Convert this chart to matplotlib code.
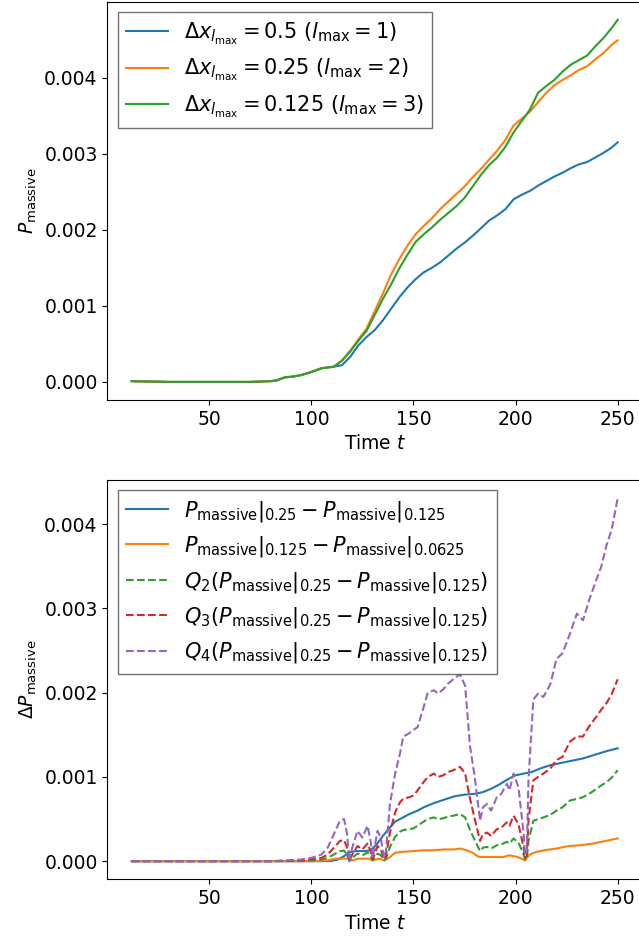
import numpy as np
import matplotlib.pyplot as plt

plt.rcParams['font.size'] = 13.5

# P_massive for the three finest resolutions
t_top = [12, 30, 50, 70, 80, 83, 87, 91, 95, 100, 105, 111, 115, 119, 123, 127, 131,
         135, 139, 143, 147, 151, 155, 159, 163, 167, 171, 175, 179, 183, 187, 191,
         195, 199, 203, 207, 211, 215, 219, 223, 227, 231, 235, 239, 243, 247, 250]
p_05 = [0.00001, 0.0, 0.0, 0.0, 0.00001, 0.00002, 0.00006, 0.00007, 0.00009, 0.00013,
        0.00018, 0.0002, 0.00022, 0.00033, 0.00048, 0.00059, 0.00068, 0.00081, 0.00096,
        0.00111, 0.00124, 0.00135, 0.00144, 0.0015, 0.00157, 0.00166, 0.00175, 0.00183,
        0.00192, 0.00202, 0.00212, 0.00219, 0.00227, 0.0024, 0.00246, 0.00251, 0.00258,
        0.00264, 0.0027, 0.00275, 0.00281, 0.00286, 0.00289, 0.00295, 0.00301, 0.00308,
        0.00315]
p_025 = [0.00001, 0.0, 0.0, 0.0, 0.00001, 0.00002, 0.00006, 0.00007, 0.00009, 0.00013,
         0.00018, 0.0002, 0.00028, 0.00041, 0.00056, 0.0007, 0.00093, 0.00116, 0.00141,
         0.00161, 0.00179, 0.00194, 0.00205, 0.00215, 0.00227, 0.00237, 0.00247, 0.00257,
         0.00269, 0.0028, 0.00292, 0.00304, 0.00318, 0.00337, 0.00346, 0.00355, 0.00368,
         0.0038, 0.0039, 0.00397, 0.00403, 0.0041, 0.00415, 0.00424, 0.00432, 0.00443,
         0.00449]
p_0125 = [0.00001, 0.0, 0.0, 0.0, 0.00001, 0.00002, 0.00006, 0.00007, 0.00009, 0.00013,
          0.00018, 0.0002, 0.00028, 0.0004, 0.00054, 0.00067, 0.00088, 0.00109, 0.00128,
          0.00149, 0.00167, 0.00184, 0.00194, 0.00203, 0.00213, 0.00222, 0.00231, 0.00242,
          0.00257, 0.00272, 0.00285, 0.00295, 0.00309, 0.00328, 0.00343, 0.00358, 0.0038,
          0.00389, 0.00397, 0.00408, 0.00417, 0.00423, 0.00429, 0.00441, 0.00452, 0.00465,
          0.00476]

# differences between resolutions
t_blue = [12, 105, 110, 113, 116, 119, 122, 126, 129, 132, 135, 138.5, 141, 143.4, 148,
          152, 155, 160, 165, 170, 175, 180, 184, 188, 192, 196, 200, 204, 208, 212, 217,
          221, 225, 229, 233, 237, 241, 245, 250]
d_025_0125 = [0.0, 0.0, 0.000005, 0.00002, 0.00006, 0.00011, 0.00012, 0.00012, 0.00013,
              0.0002, 0.0003, 0.0004, 0.00047, 0.0005, 0.00056, 0.0006, 0.00064, 0.00069,
              0.00073, 0.00077, 0.00079, 0.0008, 0.00082, 0.00086, 0.00091, 0.00097,
              0.00102, 0.00104, 0.00106, 0.0011, 0.00114, 0.00116, 0.00118, 0.0012,
              0.00122, 0.00125, 0.00128, 0.00131, 0.00134]

t_orange = [12, 100, 108, 112, 118, 120, 123, 128, 130, 133, 136, 138.5, 141, 144, 150,
            155, 160, 165, 170, 173, 176, 179, 182, 186, 190, 194, 197, 201, 204.6, 207,
            210, 214, 220, 226, 232, 238, 244, 250]
d_0125_00625 = [0.0, 0.0, 0.00001, 0.00003, 0.00003, 0.00001, 0.00003, 0.00003, 0.00001,
                0.00003, 0.00001, 0.00005, 0.0001, 0.00011, 0.00012, 0.00013, 0.00013,
                0.00014, 0.00014, 0.00015, 0.00013, 0.0001, 0.00005, 0.00005, 0.00005,
                0.00005, 0.00007, 0.00005, 0.00001, 0.00008, 0.00011, 0.00013, 0.00015,
                0.00018, 0.00019, 0.00021, 0.00024, 0.00027]

# Q-scaled error estimates
t_q = [12, 80, 95, 100, 105, 108, 111, 114, 116, 117.5, 118.6, 120, 122.6, 125, 127.5,
       129, 130, 132.4, 134, 135.5, 136.5, 138.5, 141, 143.4, 145, 148, 150, 152, 155,
       157, 160, 162, 164.6, 167, 169.5, 172.8, 175.3, 177.7, 180, 182.6, 184, 186, 188,
       190.8, 193, 195.7, 197, 199, 201.4, 203.8, 204.6, 205.5, 206.3, 208.7, 211, 213.6,
       217, 220, 223, 226.6, 230, 233, 236, 239.7, 242, 244.6, 247, 250]
q2 = [0.0, 0.0, 0.000005, 0.00001, 0.00002, 0.00004, 0.00008, 0.00012, 0.000125, 0.00008,
      0.0, 0.00004, 0.00009, 0.00007, 0.000105, 0.00006, 0.00001, 0.00009, 0.00007,
      0.00001, 0.00003, 0.00017, 0.00029, 0.00035, 0.00037, 0.00038, 0.00039, 0.00042,
      0.00047, 0.0005, 0.00052, 0.0005, 0.00051, 0.00053, 0.00054, 0.00056, 0.00052,
      0.00037, 0.00025, 0.00012, 0.00016, 0.00017, 0.00015, 0.00019, 0.0002, 0.00023,
      0.00021, 0.00027, 0.00022, 0.00009, 0.00002, 0.00003, 0.00024, 0.00048, 0.0005,
      0.00052, 0.00055, 0.0006, 0.00064, 0.00072, 0.00074, 0.00076, 0.0008, 0.00086,
      0.0009, 0.00094, 0.00099, 0.00108]
q3 = [0.0, 0.0, 0.00001, 0.00002, 0.00004, 0.00008, 0.00016, 0.00024, 0.00025, 0.00016,
      0.0, 0.00008, 0.00018, 0.00014, 0.00021, 0.00012, 0.00002, 0.00018, 0.00014,
      0.00002, 0.00006, 0.00034, 0.00058, 0.0007, 0.00074, 0.00076, 0.00078, 0.00084,
      0.00094, 0.001, 0.00104, 0.001, 0.00102, 0.00106, 0.00108, 0.00112, 0.00104,
      0.00074, 0.0005, 0.00024, 0.00032, 0.00034, 0.0003, 0.00038, 0.0004, 0.00046,
      0.00042, 0.00054, 0.00044, 0.00018, 0.00004, 0.00006, 0.00048, 0.00096, 0.001,
      0.00104, 0.0011, 0.0012, 0.00124, 0.00142, 0.00148, 0.00148, 0.0016, 0.00172,
      0.0018, 0.00188, 0.00198, 0.00216]
q4 = [0.0, 0.0, 0.00002, 0.00004, 0.00008, 0.00016, 0.00032, 0.00048, 0.0005, 0.00032,
      0.0, 0.00016, 0.00036, 0.00028, 0.00042, 0.00024, 0.00004, 0.00036, 0.00028,
      0.00004, 0.00012, 0.00068, 0.00104, 0.00128, 0.00148, 0.00152, 0.00156, 0.00159,
      0.00183, 0.002, 0.00203, 0.00199, 0.00204, 0.00211, 0.00216, 0.00222, 0.00208,
      0.00136, 0.001, 0.00048, 0.00064, 0.00068, 0.0006, 0.00076, 0.0008, 0.00092,
      0.00084, 0.00104, 0.00088, 0.00036, 0.00008, 0.00012, 0.00096, 0.00192, 0.00199,
      0.00195, 0.0021, 0.0024, 0.00247, 0.0027, 0.00294, 0.00286, 0.0031, 0.00335,
      0.0035, 0.00376, 0.00393, 0.00431]

fig = plt.figure(figsize=(6.39, 9.43), dpi=100)
ax1 = fig.add_axes([0.168, 0.5758, 0.8367, 0.4224])
ax2 = fig.add_axes([0.168, 0.0675, 0.8367, 0.4235])

ax1.plot(t_top, p_05, label=r'$\Delta x_{l_\mathrm{max}} = 0.5$ ($l_\mathrm{max} = 1$)')
ax1.plot(t_top, p_025, label=r'$\Delta x_{l_\mathrm{max}} = 0.25$ ($l_\mathrm{max} = 2$)')
ax1.plot(t_top, p_0125, label=r'$\Delta x_{l_\mathrm{max}} = 0.125$ ($l_\mathrm{max} = 3$)')
ax1.set_xlabel('Time $t$')
ax1.set_ylabel(r'$P_\mathrm{massive}$')
ax1.legend(loc='upper left', edgecolor='0.3', fancybox=False, fontsize=15)

diff_a = r'P_\mathrm{massive}|_{0.25} - P_\mathrm{massive}|_{0.125}'
diff_b = r'P_\mathrm{massive}|_{0.125} - P_\mathrm{massive}|_{0.0625}'
ax2.plot(t_blue, d_025_0125, label='$' + diff_a + '$')
ax2.plot(t_orange, d_0125_00625, label='$' + diff_b + '$')
ax2.plot(t_q, q2, '--', label='$Q_2(' + diff_a + ')$')
ax2.plot(t_q, q3, '--', label='$Q_3(' + diff_a + ')$')
ax2.plot(t_q, q4, '--', label='$Q_4(' + diff_a + ')$')
ax2.set_xlabel('Time $t$')
ax2.set_ylabel(r'$\Delta P_\mathrm{massive}$')
ax2.legend(loc='upper left', edgecolor='0.3', fancybox=False, fontsize=15)

for ax in (ax1, ax2):
    ax.set_xticks([50, 100, 150, 200, 250])

fig.savefig('out.png', dpi=100)
